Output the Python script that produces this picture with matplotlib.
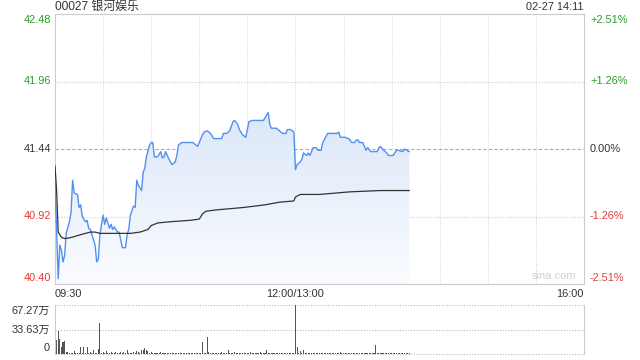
import matplotlib
matplotlib.use('Agg')
import matplotlib.pyplot as plt
import numpy as np
from matplotlib.patches import Polygon
from matplotlib.colors import LinearSegmentedColormap

plt.rcParams['font.family'] = ['Liberation Sans', 'Noto Sans CJK SC', 'DejaVu Sans']

title = "00027 银河娱乐"
stamp = "02-27 14:11"
prev_close = 41.44
price_ticks = [42.48, 41.96, 41.44, 40.92, 40.40]
pct_labels = ["+2.51%", "+1.26%", "0.00%", "-1.26%", "-2.51%"]
time_labels = ["09:30", "12:00/13:00", "16:00"]
time_pos = [0, 150, 330]
total_minutes = 330

price_min = [0, 2, 3, 4, 5, 6, 7, 9, 10, 11, 12, 14, 15, 16, 17, 19, 20, 21, 22, 23,
             25, 26, 27, 28, 30, 31, 32, 34, 35, 36, 37, 39, 40, 41, 42, 44, 45, 46, 47, 49,
             50, 51, 52, 54, 55, 56, 57, 59, 60, 61, 62, 64, 66, 67, 68, 69, 70, 72, 73, 75,
             76, 77, 79, 81, 84, 86, 88, 89, 91, 92, 93, 95, 97, 99, 104, 105, 107, 109, 111, 112,
             114, 115, 117, 119, 120, 121, 123, 130, 132, 133, 134, 135, 138, 142, 144, 145, 147, 149, 150, 151,
             153, 154, 155, 157, 158, 159, 161, 163, 164, 166, 167, 168, 170, 176, 177, 178, 181, 183, 184, 185,
             187, 188, 189, 190, 192, 193, 194, 195, 197, 201, 202, 203, 205, 207, 208, 211, 213, 214, 217, 218,
             221]
price = [41.18, 40.44, 40.70, 40.66, 40.57, 40.62, 40.79, 40.88, 40.95, 41.20, 41.10, 41.09, 40.99, 41.01, 40.92, 40.88, 40.89, 40.83, 40.82, 40.78,
         40.70, 40.57, 40.59, 40.78, 40.93, 40.86, 40.91, 40.83, 40.86, 40.82, 40.84, 40.80, 40.80, 40.74, 40.68, 40.68, 40.78, 40.82, 40.93, 41.00,
         40.99, 41.20, 41.16, 41.12, 41.26, 41.29, 41.38, 41.47, 41.49, 41.49, 41.38, 41.38, 41.42, 41.37, 41.38, 41.42, 41.39, 41.34, 41.32, 41.34,
         41.39, 41.47, 41.49, 41.49, 41.49, 41.49, 41.47, 41.46, 41.52, 41.55, 41.57, 41.58, 41.56, 41.52, 41.52, 41.56, 41.56, 41.58, 41.65, 41.66,
         41.63, 41.59, 41.55, 41.53, 41.59, 41.65, 41.66, 41.66, 41.70, 41.72, 41.63, 41.60, 41.60, 41.56, 41.56, 41.59, 41.59, 41.57, 41.28, 41.32,
         41.34, 41.36, 41.41, 41.39, 41.41, 41.39, 41.45, 41.45, 41.43, 41.43, 41.49, 41.51, 41.56, 41.56, 41.57, 41.53, 41.53, 41.52, 41.51, 41.49,
         41.49, 41.51, 41.51, 41.49, 41.49, 41.46, 41.43, 41.45, 41.42, 41.42, 41.45, 41.46, 41.43, 41.41, 41.39, 41.39, 41.43, 41.43, 41.42, 41.44,
         41.42]

avg_min = [0, 1, 2, 4, 6, 9, 12, 16, 19, 22, 25, 28, 47, 53, 58, 60, 64, 72, 84, 90,
           92, 94, 100, 109, 118, 131, 140, 149, 150, 153, 165, 184, 203, 221]
avg = [41.31, 41.12, 40.80, 40.76, 40.75, 40.755, 40.765, 40.78, 40.79, 40.80, 40.80, 40.79, 40.79, 40.80, 40.82, 40.85, 40.87, 40.88, 40.89, 40.90,
       40.94, 40.96, 40.97, 40.98, 40.99, 41.01, 41.03, 41.04, 41.07, 41.09, 41.09, 41.11, 41.12, 41.12]

# volume per minute, in 万
volume = [22, 19, 32, 20, 10, 17, 18, 3, 2.5, 2,
          1.5, 0.8, 4, 2, 1, 1.5, 9, 1, 9, 2,
          10, 2, 3, 1, 5, 2, 1, 7, 43, 2,
          3, 2, 4, 1.5, 2, 3, 2, 1.5, 3, 2,
          2, 2.5, 1.5, 3, 2, 6, 2, 1, 2, 3,
          2, 4, 3, 2, 5, 6, 8, 5, 4, 2,
          3, 2, 1.5, 2, 2, 1.5, 3, 2, 1, 2,
          1.5, 2, 1, 2, 1.5, 1, 2, 1, 1.5, 2,
          1, 2, 1.5, 2, 1, 1.5, 1, 2, 1, 1.5,
          2, 1, 16, 2, 1, 23, 3, 2, 1.5, 2,
          1, 2, 1.5, 1, 3, 1, 2, 1, 5, 2,
          1.5, 2, 3, 1, 2, 1.5, 1, 2, 1.5, 1,
          2, 1.5, 3, 1, 2, 1.5, 1, 2, 3, 1,
          1.5, 2, 6, 1, 2, 1.5, 1, 2, 1, 1.5,
          2, 1, 1.5, 2, 1, 2, 1.5, 1, 2, 1,
          67.27, 9, 2, 4, 1.5, 5, 2, 1, 2, 1.5,
          1, 2, 1.5, 1, 2, 1, 1.5, 2, 1, 2,
          1.5, 1, 2, 1, 1.5, 2, 1, 1.5, 3, 1,
          2, 1.5, 1, 2, 1, 1.5, 2, 1, 1.5, 1,
          2, 1, 1.5, 1, 2, 1, 1.5, 1, 1, 2,
          13, 1, 1.5, 1, 1, 1.5, 1, 1, 1.5, 1,
          1, 1.5, 1, 1, 1.5, 1, 1, 1, 1.5, 1,
          1, 1]
vol_ticks = [67.27, 33.63, 0]
vol_labels = ["67.27万", "33.63万", "0"]

GREEN = '#2a9d2a'
RED = '#e83a3a'
DARK = '#333333'
label_colors = [GREEN, GREEN, DARK, RED, RED]

W, H = 640, 360
fig = plt.figure(figsize=(6.4, 3.6), dpi=100)

def fx(x):
    return x / W

def fy(y):
    return 1 - y / H

ax = fig.add_axes([fx(55), fy(284), 529 / W, 270 / H])
ax.set_xlim(0, total_minutes)
ax.set_ylim(price_ticks[-1], price_ticks[0])
ax.set_xticks([])
ax.set_yticks([])
for s in ax.spines.values():
    s.set_color('#cccccc')
    s.set_linewidth(0.8)

for m in range(30, total_minutes, 30):
    ax.axvline(m, color='#d4d4d4', lw=0.7, ls=(0, (1, 1.5)), zorder=0)
for p in [price_ticks[1], price_ticks[3]]:
    ax.axhline(p, color='#cccccc', lw=0.8, ls=(0, (1, 1.5)), zorder=0)
ax.axhline(prev_close, color='#aaaaaa', lw=0.8, ls=(0, (3, 2)), zorder=0)

xs = np.array(price_min, dtype=float)
ys = np.array(price)
verts = [(xs[0], price_ticks[-1])] + list(zip(xs, ys)) + [(xs[-1], price_ticks[-1])]
poly = Polygon(verts, closed=True, facecolor='none', edgecolor='none')
ax.add_patch(poly)
grad = np.linspace(0, 1, 256).reshape(-1, 1)
cmap = LinearSegmentedColormap.from_list('g', ['#fafcff', '#dce7f8'])
im = ax.imshow(grad, extent=[0, total_minutes, price_ticks[-1], ys.max()], aspect='auto',
               cmap=cmap, origin='lower', zorder=1)
im.set_clip_path(poly)
ax.set_xlim(0, total_minutes)
ax.set_ylim(price_ticks[-1], price_ticks[0])

ax.plot(price_min, price, color='#5290f0', lw=1.0, zorder=3)
ax.plot(avg_min, avg, color='#333333', lw=0.9, zorder=3)

ax.text(0.985, 0.01, "sina.com", transform=ax.transAxes, ha='right', va='bottom',
        color='#d0d0d0', fontsize=8)

fs = 7.9
# left price labels and right percent labels
for i, (p, lab, c) in enumerate(zip(price_ticks, pct_labels, label_colors)):
    ypx = 14 + (price_ticks[0] - p) / (price_ticks[0] - price_ticks[-1]) * 270
    if i == 0:
        ypx += 6
    if i == len(price_ticks) - 1:
        ypx -= 6
    fig.text(fx(51), fy(ypx), f"{p:.2f}", ha='right', va='center', color=c, fontsize=fs)
    fig.text(fx(590), fy(ypx), lab, ha='left', va='center', color=c, fontsize=fs)

fig.text(fx(55), fy(7), title, ha='left', va='center', color=DARK, fontsize=8.6)
fig.text(fx(584), fy(7), stamp, ha='right', va='center', color=DARK, fontsize=fs)

# time labels
for lab, m in zip(time_labels, time_pos):
    xpx = 55 + m / total_minutes * 529
    ha = 'left' if m == 0 else ('right' if m == total_minutes else 'center')
    fig.text(fx(xpx), fy(294), lab, ha=ha, va='center', color=DARK, fontsize=fs)

# volume panel
vax = fig.add_axes([fx(55), fy(354), 529 / W, 49 / H])
vax.set_xlim(0, total_minutes)
vax.set_ylim(0, vol_ticks[0])
vax.set_xticks([])
vax.set_yticks([])
for k in ['top', 'bottom']:
    vax.spines[k].set_visible(False)
for k in ['left', 'right']:
    vax.spines[k].set_color('#cccccc')
    vax.spines[k].set_linewidth(0.8)
for v in vol_ticks:
    vax.axhline(v, color='#bbbbbb', lw=0.8, ls=(0, (1, 1.5)), zorder=0, clip_on=False)
vax.bar(np.arange(len(volume)), volume, width=0.65, color='#555555', zorder=2)

for v, lab in zip(vol_ticks, vol_labels):
    ypx = 305 + (vol_ticks[0] - v) / vol_ticks[0] * 49
    if v == vol_ticks[0]:
        ypx += 6
    if v == 0:
        ypx -= 6
    fig.text(fx(50), fy(ypx), lab, ha='right', va='center', color=DARK, fontsize=fs)

fig.savefig('out.png', dpi=100)
